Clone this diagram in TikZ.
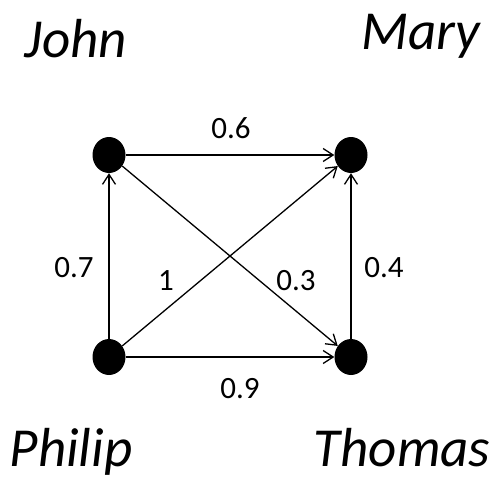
\documentclass[tikz,border=0pt]{standalone}
\usepackage{fontspec}
\setmainfont{Carlito}
\usetikzlibrary{arrows.meta,shapes.geometric}
\begin{document}
\begin{tikzpicture}[x=1pt,y=-1pt,
  dotnode/.style={ellipse,fill=black,draw=none,minimum width=33pt,minimum height=36pt,inner sep=0pt},
  namelabel/.style={anchor=base,inner sep=0pt,font=\fontsize{55}{66}\selectfont\itshape},
  weightlabel/.style={anchor=base,inner sep=0pt,font=\fontsize{31}{37}\selectfont},
  linkarrow/.style={line width=1.3pt,-{Straight Barb[length=10pt,width=13pt,line width=1.3pt]}}]
\useasboundingbox[fill=white] (0,0) rectangle (495,487);
\node[dotnode] (john) at (109,155) {};
\node[dotnode] (mary) at (351,155) {};
\node[dotnode] (philip) at (109,357) {};
\node[dotnode] (thomas) at (351,357) {};
\node[namelabel] (tjohn) at (76,58) {John};
\node[namelabel] (tmary) at (421,50) {Mary};
\node[namelabel] (tphilip) at (71,466) {Philip};
\node[namelabel] (tthomas) at (402,466) {Thomas};
\draw[linkarrow] (john) -- (mary);
\draw[linkarrow] (philip) -- (john);
\draw[linkarrow] (philip) -- (mary);
\draw[linkarrow] (john) -- (thomas);
\draw[linkarrow] (thomas) -- (mary);
\draw[linkarrow] (philip) -- (thomas);
\node[weightlabel] (w06) at (231,138) {0.6};
\node[weightlabel] (w07) at (74,277) {0.7};
\node[weightlabel] (w1) at (166,290) {1};
\node[weightlabel] (w03) at (296,290) {0.3};
\node[weightlabel] (w04) at (384,277) {0.4};
\node[weightlabel] (w09) at (240,398) {0.9};
\end{tikzpicture}
\end{document}
